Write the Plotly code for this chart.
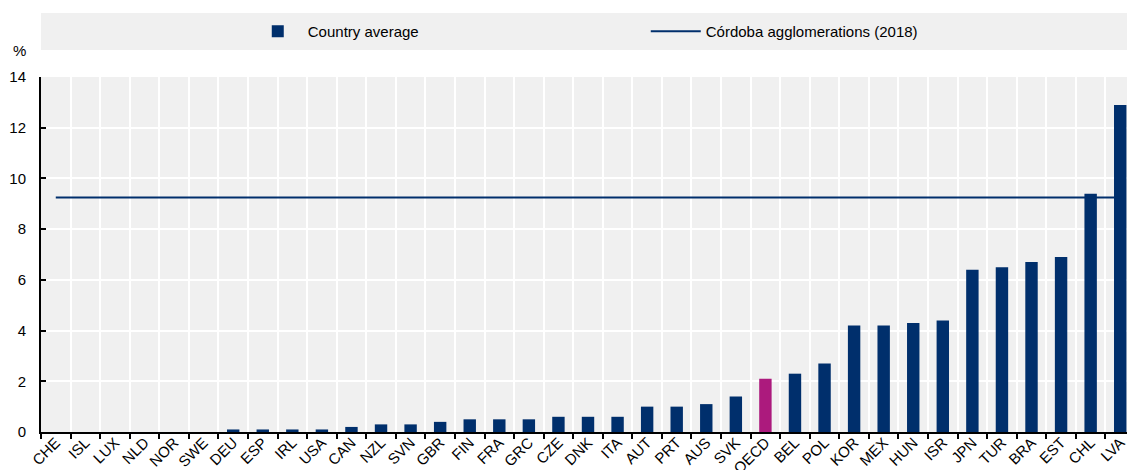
import plotly.graph_objects as go

# ------Data--------

countries = ["CHE", "ISL", "LUX", "NLD", "NOR", "SWE", "DEU", "ESP", "IRL", "USA",
             "CAN", "NZL", "SVN", "GBR", "FIN", "FRA", "GRC", "CZE", "DNK", "ITA",
             "AUT", "PRT", "AUS", "SVK", "OECD", "BEL", "POL", "KOR", "MEX", "HUN",
             "ISR", "JPN", "TUR", "BRA", "EST", "CHL", "LVA"]
country_avg = [0, 0, 0, 0, 0, 0, 0.1, 0.1, 0.1, 0.1,
               0.2, 0.3, 0.3, 0.4, 0.5, 0.5, 0.5, 0.6, 0.6, 0.6,
               1.0, 1.0, 1.1, 1.4, 2.1, 2.3, 2.7, 4.2, 4.2, 4.3,
               4.4, 6.4, 6.5, 6.7, 6.9, 9.4, 12.9]
cordoba = 9.25
y_ticks = [0, 2, 4, 6, 8, 10, 12, 14]

NAVY = "#002F6C"
MAGENTA = "#AC1A7D"
GRID_BG = "#F0F0F0"

bar_colors = [MAGENTA if c == "OECD" else NAVY for c in countries]

# ------Graph Generation--------

fig = go.Figure()
fig.add_trace(go.Bar(x=countries, y=country_avg, name="Country average",
                     marker=dict(color=bar_colors, line=dict(width=0)),
                     width=0.42))
fig.add_trace(go.Scatter(x=countries, y=[cordoba] * len(countries), mode="lines",
                         name="Córdoba agglomerations (2018)",
                         line=dict(color=NAVY, width=2)))

# grey band behind the legend
fig.add_shape(type="rect", xref="paper", yref="paper", x0=0, x1=1, y0=1.076, y1=1.180,
              fillcolor=GRID_BG, line_width=0, layer="below")

# page body has an 8px margin, so the figure is sized to fit the window
fig.update_layout(
    width=1127, height=462,
    margin=dict(l=33, r=0, t=69, b=38),
    paper_bgcolor="white", plot_bgcolor=GRID_BG,
    font=dict(family="Liberation Sans, Arial", size=14, color="black"),
    showlegend=True,
    legend=dict(orientation="h", x=0.189, xanchor="left", y=1.128, yanchor="middle",
                bgcolor="rgba(0,0,0,0)", entrywidth=333, entrywidthmode="pixels",
                itemwidth=50, font=dict(size=15), traceorder="normal"),
    annotations=[dict(text="%", xref="paper", yref="paper", x=-0.02, y=1.045,
                      xanchor="center", yanchor="bottom", showarrow=False,
                      font=dict(size=15))],
)

fig.update_xaxes(tickson="boundaries", showgrid=True, gridcolor="white", gridwidth=2,
                 ticks="outside", ticklen=5, tickwidth=2, tickcolor="black",
                 showline=True, linecolor="black", linewidth=2, automargin=False,
                 tickangle=-45, tickfont=dict(size=15), ticklabelstandoff=-6,
                 range=[-0.5, 36.5])
fig.update_yaxes(range=[0, 14], tickvals=y_ticks, showgrid=True, gridcolor="white",
                 gridwidth=2, ticks="inside", ticklen=5, tickwidth=2, tickcolor="black",
                 showline=True, linecolor="black", linewidth=2, zeroline=False,
                 automargin=False, tickfont=dict(size=15), ticklabelstandoff=10)

fig.write_html("out.html")
